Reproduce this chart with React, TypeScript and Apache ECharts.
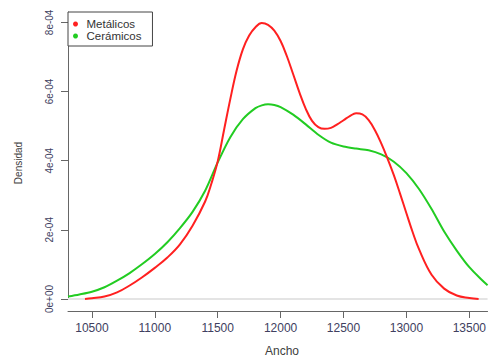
import React, { useEffect, useRef } from "react";
import * as echarts from "echarts";

// Metálicos density (x: Ancho, y in units of 1e-4)
const metalicosX = [10445, 10500, 10600, 10700, 10800, 10900, 11000, 11100, 11200, 11300, 11400, 11450, 11500, 11550, 11600, 11650, 11700, 11750, 11800, 11850, 11900, 11950, 12000, 12050, 12100, 12150, 12200, 12250, 12300, 12350, 12400, 12450, 12500, 12550, 12600, 12650, 12700, 12750, 12800, 12850, 12900, 12950, 13000, 13050, 13100, 13200, 13300, 13400, 13500, 13574];
const metalicosY = [0.0, 0.02, 0.07, 0.19, 0.39, 0.63, 0.9, 1.2, 1.58, 2.12, 2.82, 3.34, 3.98, 4.88, 5.78, 6.6, 7.22, 7.62, 7.86, 7.98, 7.93, 7.76, 7.46, 7.02, 6.5, 5.97, 5.5, 5.15, 4.97, 4.92, 4.95, 5.05, 5.17, 5.29, 5.37, 5.34, 5.17, 4.88, 4.5, 4.06, 3.58, 3.04, 2.48, 1.93, 1.44, 0.7, 0.3, 0.1, 0.03, 0.0];

// Cerámicos density
const ceramicosX = [10310, 10400, 10500, 10600, 10700, 10800, 10900, 11000, 11100, 11200, 11300, 11400, 11500, 11600, 11700, 11800, 11850, 11900, 11950, 12000, 12100, 12200, 12300, 12400, 12500, 12600, 12700, 12800, 12900, 13000, 13100, 13200, 13300, 13400, 13500, 13600, 13645];
const ceramicosY = [0.07, 0.13, 0.21, 0.34, 0.53, 0.75, 1.01, 1.3, 1.64, 2.05, 2.52, 3.13, 3.95, 4.68, 5.2, 5.52, 5.6, 5.63, 5.61, 5.55, 5.33, 5.05, 4.75, 4.52, 4.41, 4.35, 4.3, 4.18, 3.97, 3.64, 3.18, 2.6, 1.95, 1.4, 0.92, 0.55, 0.4];

const xTicks = [10500, 11000, 11500, 12000, 12500, 13000, 13500];
const yTicks = [0, 0.0002, 0.0004, 0.0006, 0.0008];
const yTickLabels = ["0e+00", "2e-04", "4e-04", "6e-04", "8e-04"];

const seriesNames = ["Metálicos", "Cerámicos"];
const colors = ["#ff2020", "#22cc22"];

export default function App() {
  const ref = useRef<HTMLDivElement>(null);
  useEffect(() => {
    if (!ref.current) return;
    const chart = echarts.init(ref.current, undefined, { renderer: "svg" });
    const metData = metalicosX.map((x, i) => [x, metalicosY[i] * 1e-4]);
    const cerData = ceramicosX.map((x, i) => [x, ceramicosY[i] * 1e-4]);
    chart.setOption({
      animation: false,
      backgroundColor: "#ffffff",
      grid: { left: 68, right: 0, top: 12, bottom: 58 },
      xAxis: {
        type: "value",
        min: 10310,
        max: 13645,
        offset: 12,
        axisLine: { show: true, onZero: false, lineStyle: { color: "#666", width: 1 } },
        axisTick: { show: true, length: 7, customValues: xTicks, lineStyle: { color: "#666" } },
        axisLabel: {
          customValues: xTicks,
          margin: 11,
          fontSize: 12,
          color: "#404060",
          fontFamily: "Liberation Sans, Arial, sans-serif",
          formatter: (v: number) => String(Math.round(v)),
        },
        splitLine: { show: false },
      },
      yAxis: {
        type: "value",
        min: 0,
        max: 0.00083,
        axisLine: { show: true, lineStyle: { color: "#666", width: 1 } },
        axisTick: { show: true, length: 7, customValues: yTicks, lineStyle: { color: "#666" } },
        axisLabel: {
          customValues: yTicks,
          rotate: 90,
          margin: 14,
          fontSize: 10,
          color: "#404060",
          fontFamily: "Liberation Sans, Arial, sans-serif",
          formatter: (v: number) => {
            const idx = yTicks.findIndex((t) => Math.abs(t - v) < 1e-9);
            return idx >= 0 ? yTickLabels[idx] : "";
          },
        },
        splitLine: { show: false },
      },
      legend: {
        orient: "vertical",
        left: 68,
        top: 12,
        data: seriesNames,
        icon: "circle",
        itemWidth: 12,
        itemHeight: 5,
        itemGap: 0,
        padding: [6, 11, 4, 5],
        borderColor: "#444",
        borderWidth: 1,
        backgroundColor: "#fff",
        textStyle: {
          fontSize: 11.5,
          lineHeight: 11.5,
          color: "#333",
          fontFamily: "Liberation Sans, Arial, sans-serif",
        },
      },
      graphic: [
        {
          type: "text",
          x: 18,
          y: 163,
          rotation: Math.PI / 2,
          style: {
            text: "Densidad",
            fontSize: 10,
            fill: "#404040",
            fontFamily: "Liberation Sans, Arial, sans-serif",
            align: "center",
            verticalAlign: "middle",
          },
        },
        {
          type: "text",
          x: 282,
          y: 351,
          style: {
            text: "Ancho",
            fontSize: 12,
            fill: "#404040",
            fontFamily: "Liberation Sans, Arial, sans-serif",
            align: "center",
            verticalAlign: "middle",
          },
        },
      ],
      series: [
        {
          name: seriesNames[0],
          type: "line",
          data: metData,
          smooth: 0.4,
          showSymbol: false,
          symbol: "none",
          lineStyle: { color: colors[0], width: 2 },
          itemStyle: { color: colors[0] },
          z: 3,
          markLine: {
            silent: true,
            symbol: "none",
            label: { show: false },
            lineStyle: { color: "#e4e4e4", width: 2, type: "solid" },
            data: [{ yAxis: 0 }],
            z: 1,
          },
        },
        {
          name: seriesNames[1],
          type: "line",
          data: cerData,
          smooth: 0.3,
          showSymbol: false,
          symbol: "none",
          lineStyle: { color: colors[1], width: 2 },
          itemStyle: { color: colors[1] },
          z: 2,
        },
      ],
    });
    return () => chart.dispose();
  }, []);
  return (
    <div
      ref={ref}
      style={{ position: "absolute", left: 0, top: 0, width: 489, height: 357 }}
    />
  );
}
